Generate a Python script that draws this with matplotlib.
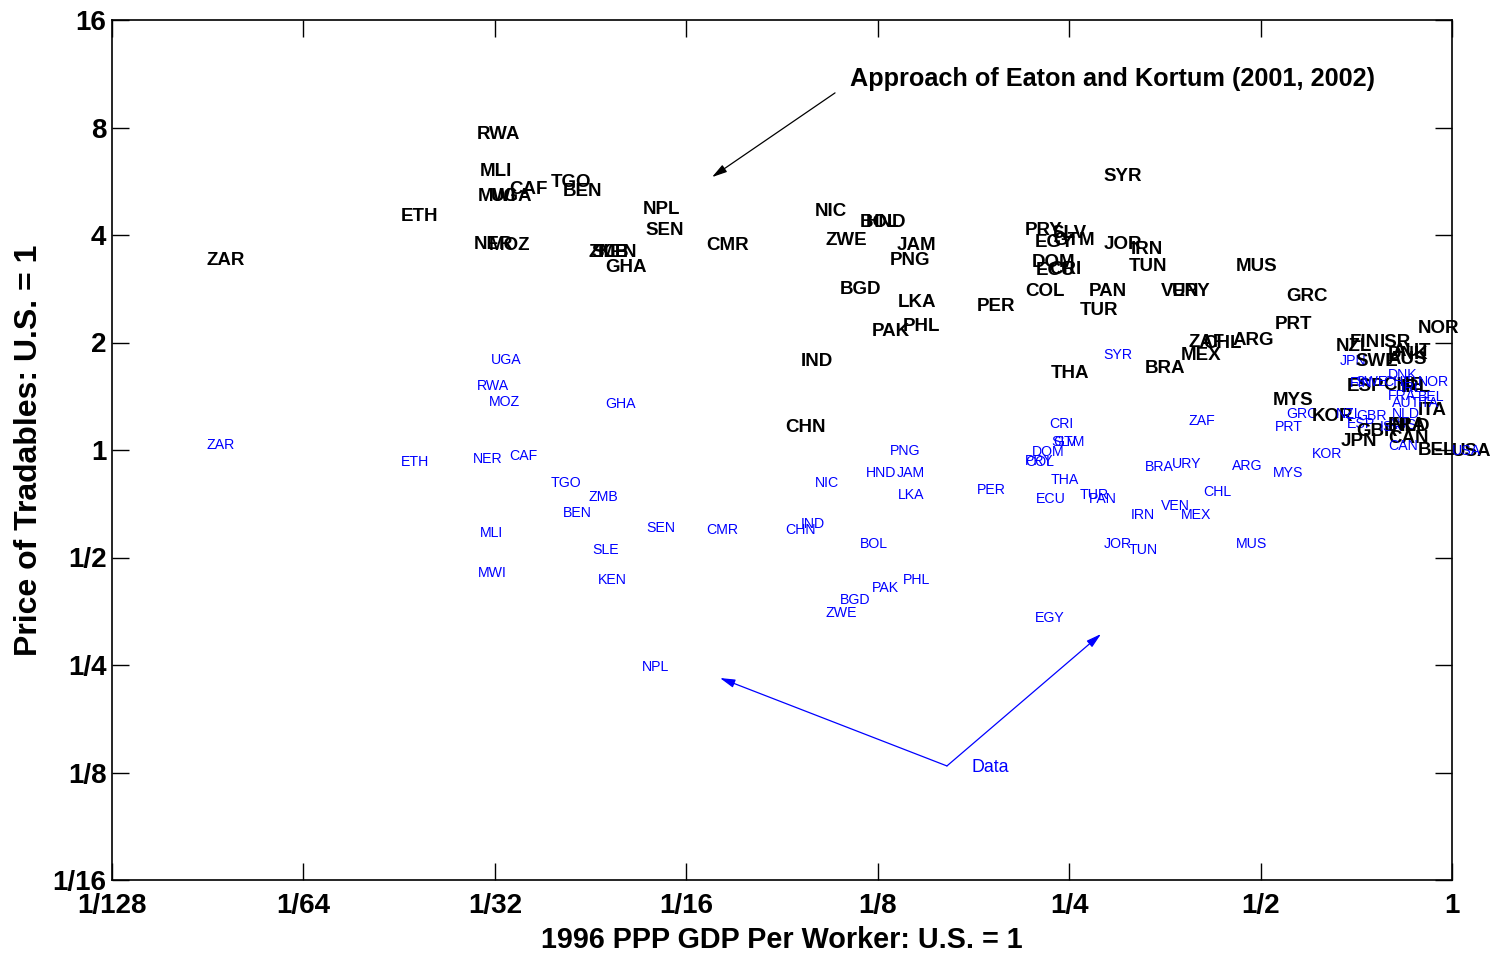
import matplotlib
matplotlib.use("Agg")
import matplotlib.pyplot as plt
from matplotlib.ticker import FixedLocator, FixedFormatter, NullLocator
from matplotlib.transforms import offset_copy

plt.rcParams['font.family'] = ['Liberation Sans', 'DejaVu Sans']

# Country codes, GDP per worker relative to the U.S., and the price of
# tradables relative to the U.S. (model prediction and observed data).
countries = [
    "ZAR", "ETH", "RWA", "MWI", "MLI", "NER", "MOZ", "UGA", "CAF", "TGO",
    "BEN", "ZMB", "SLE", "KEN", "GHA", "NPL", "SEN", "CMR", "CHN", "IND",
    "NIC", "ZWE", "BGD", "BOL", "HND", "PAK", "PNG", "JAM", "LKA", "PHL",
    "PER", "COL", "PRY", "DOM", "EGY", "ECU", "CRI", "SLV", "THA", "GTM",
    "TUR", "PAN", "SYR", "JOR", "TUN", "IRN", "BRA", "VEN", "URY", "MEX",
    "ZAF", "CHL", "ARG", "MUS", "MYS", "PRT", "GRC", "KOR", "NZL", "JPN",
    "ESP", "FIN", "SWE", "GBR", "ISR", "CHE", "DNK", "AUS", "CAN", "FRA",
    "AUT", "NLD", "IRL", "NOR", "BEL", "ITA", "USA",
]

gdp_per_worker = [
    0.0110, 0.0222, 0.0293, 0.0294, 0.0296, 0.0289, 0.0306, 0.0308, 0.0329, 0.0382,
    0.0400, 0.0438, 0.0444, 0.0454, 0.0466, 0.0533, 0.0540, 0.0671, 0.0894, 0.0947,
    0.0996, 0.1033, 0.1090, 0.1172, 0.1198, 0.1224, 0.1307, 0.1341, 0.1345, 0.1370,
    0.1791, 0.2131, 0.2131, 0.2185, 0.2209, 0.2216, 0.2324, 0.2341, 0.2341, 0.2358,
    0.2600, 0.2686, 0.2826, 0.2836, 0.3105, 0.3128, 0.3290, 0.3486, 0.3628, 0.3748,
    0.3845, 0.4059, 0.4516, 0.4565, 0.5230, 0.5263, 0.5482, 0.6023, 0.657, 0.667,
    0.684, 0.690, 0.704, 0.706, 0.770, 0.779, 0.793, 0.793, 0.793, 0.793,
    0.805, 0.805, 0.830, 0.883, 0.883, 0.883, 1.000,
]

price_model = [
    3.43, 4.58, 7.77, 5.21, 6.12, 3.82, 3.78, 5.21, 5.45, 5.67,
    5.35, 3.63, 3.63, 3.63, 3.28, 4.79, 4.16, 3.78, 1.17, 1.79,
    4.73, 3.90, 2.86, 4.38, 4.38, 2.17, 3.43, 3.78, 2.63, 2.25,
    2.55, 2.81, 4.18, 3.40, 3.85, 3.23, 3.25, 4.08, 1.66, 3.90,
    2.49, 2.81, 5.89, 3.80, 3.30, 3.70, 1.71, 2.82, 2.82, 1.86,
    2.02, 2.01, 2.05, 3.30, 1.39, 2.27, 2.72, 1.26, 1.97, 1.07,
    1.53, 2.03, 1.79, 1.14, 2.03, 1.54, 1.88, 1.82, 1.09, 1.19,
    1.91, 1.18, 1.52, 2.22, 1.01, 1.31, 1.00,
]

price_data = [
    1.04, 0.932, 1.52, 0.455, 0.590, 0.950, 1.37, 1.80, 0.968, 0.814,
    0.671, 0.743, 0.528, 0.435, 1.35, 0.248, 0.609, 0.601, 0.601, 0.625,
    0.814, 0.352, 0.383, 0.549, 0.868, 0.414, 1.00, 0.868, 0.753, 0.435,
    0.778, 0.932, 0.937, 0.994, 0.340, 0.734, 1.19, 1.06, 0.829, 1.06,
    0.753, 0.734, 1.86, 0.549, 0.528, 0.662, 0.902, 0.701, 0.920, 0.662,
    1.21, 0.768, 0.908, 0.549, 0.868, 1.17, 1.27, 0.981, 1.27, 1.79,
    1.19, 1.55, 1.56, 1.25, 1.17, 1.56, 1.63, 1.18, 1.03, 1.43,
    1.36, 1.27, 1.50, 1.56, 1.42, 1.36, 1.00,
]

x_ticks = [1/128, 1/64, 1/32, 1/16, 1/8, 1/4, 1/2, 1]
x_tick_labels = ["1/128", "1/64", "1/32", "1/16", "1/8", "1/4", "1/2", "1"]
y_ticks = [1/16, 1/8, 1/4, 1/2, 1, 2, 4, 8, 16]
y_tick_labels = ["1/16", "1/8", "1/4", "1/2", "1", "2", "4", "8", "16"]

fig = plt.figure(figsize=(14.97, 9.58), dpi=100)
ax = fig.add_axes([112/1497, 1 - 880/958, 1340/1497, 860/958])
ax.set_xscale('log', base=2)
ax.set_yscale('log', base=2)
ax.set_xlim(1/128, 1)
ax.set_ylim(1/16, 16)

# Labels sit with their left edge on the point, glyphs centred vertically
model_tr = offset_copy(ax.transData, fig=fig, x=0, y=-2, units='dots')
data_tr = offset_copy(ax.transData, fig=fig, x=0, y=-1, units='dots')

for code, g, pm, pd in zip(countries, gdp_per_worker, price_model, price_data):
    ax.text(g, pm, code, ha='left', va='center', fontsize=13.5,
            fontweight='bold', color='black', clip_on=False,
            transform=model_tr)
    ax.text(g, pd, code, ha='left', va='center', fontsize=10.2,
            color=(0, 0, 1), clip_on=False, transform=data_tr)

ax.xaxis.set_major_locator(FixedLocator(x_ticks))
ax.xaxis.set_major_formatter(FixedFormatter(x_tick_labels))
ax.yaxis.set_major_locator(FixedLocator(y_ticks))
ax.yaxis.set_major_formatter(FixedFormatter(y_tick_labels))
ax.xaxis.set_minor_locator(NullLocator())
ax.yaxis.set_minor_locator(NullLocator())
ax.tick_params(axis='both', which='major', direction='in', length=12, width=1,
               top=True, right=True, labelsize=20)
ax.tick_params(axis='x', pad=9.5)
ax.tick_params(axis='y', pad=4)
for lab in ax.get_xticklabels() + ax.get_yticklabels():
    lab.set_fontweight('bold')
for sp in ax.spines.values():
    sp.set_linewidth(1.2)

ax.set_xlabel("1996 PPP GDP Per Worker: U.S. = 1", fontsize=20.7,
              fontweight='bold', labelpad=5)
ax.set_ylabel("Price of Tradables: U.S. = 1", fontsize=23,
              fontweight='bold', labelpad=6)

text_tr = offset_copy(ax.transData, fig=fig, x=0, y=-2, units='dots')

# Annotation for the model predictions
ax.annotate("", xy=(0.0686, 5.81), xytext=(0.1071, 10.0),
            arrowprops=dict(arrowstyle='-|>,head_length=0.9,head_width=0.25',
                            color='black', lw=0.9, shrinkA=0, shrinkB=0))
ax.text(0.1131, 11.08, "Approach of Eaton and Kortum (2001, 2002)",
        ha='left', va='center', fontsize=18.2, fontweight='bold',
        transform=text_tr)

# Annotation for the observed data
for tip in [(0.0706, 0.2299), (0.2806, 0.3053)]:
    ax.annotate("", xy=tip, xytext=(0.1606, 0.1304),
                arrowprops=dict(arrowstyle='-|>,head_length=0.9,head_width=0.25',
                                color=(0, 0, 1), lw=0.9, shrinkA=0, shrinkB=0))
ax.text(0.1754, 0.1304, "Data", ha='left', va='center', fontsize=12.8,
        color=(0, 0, 1), transform=text_tr)

fig.savefig("out.png", dpi=100)
